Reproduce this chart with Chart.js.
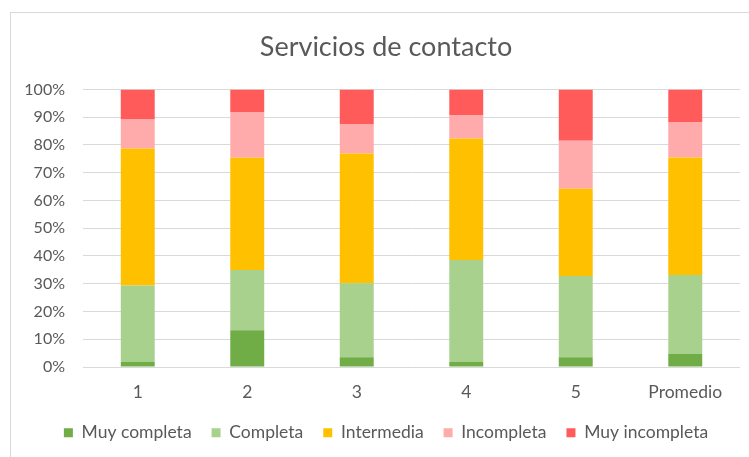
<!DOCTYPE html>
<html>
<head>
<meta charset="utf-8">
<script src="https://cdn.jsdelivr.net/npm/chart.js@4/dist/chart.umd.min.js"></script>
<style>
  html, body { margin: 0; padding: 0; background: #fff; overflow: hidden; width: 749px; height: 457px; }
  #frame { position: absolute; left: 10px; top: 12px; width: 800px; height: 500px; border: 1px solid #d9d9d9; box-sizing: border-box; }
  #wrap { position: absolute; left: 0; top: 0; width: 770px; height: 457px; }
</style>
</head>
<body>
<div id="frame"></div>
<div id="wrap"><canvas id="c" width="770" height="457"></canvas></div>
<script>
const categories = ['1', '2', '3', '4', '5', 'Promedio'];
const muyCompleta   = [1.8, 13.2, 3.5, 1.8, 3.5, 4.8];
const completa      = [27.6, 21.7, 26.7, 36.7, 29.3, 28.3];
const intermedia    = [49.3, 40.5, 46.7, 43.8, 31.4, 42.4];
const incompleta    = [10.5, 16.3, 10.5, 8.3, 17.3, 12.6];
const muyIncompleta = [10.8, 8.3, 12.6, 9.4, 18.5, 11.9];
const yTicks = [0, 10, 20, 30, 40, 50, 60, 70, 80, 90, 100];

const textColor = '#595959';
const fontFam = 'Lato, "Open Sans", sans-serif';

const legendHeightPlugin = {
  id: 'legendHeight',
  afterInit(chart) {
    const lg = chart.legend;
    if (!lg) return;
    const orig = lg.fit.bind(lg);
    lg.fit = function () { orig(); this.height = 53; };
  }
};

new Chart(document.getElementById('c'), {
  type: 'bar',
  plugins: [legendHeightPlugin],
  data: {
    labels: categories,
    datasets: [
      { label: 'Muy completa', data: muyCompleta, backgroundColor: '#70AD47' },
      { label: 'Completa', data: completa, backgroundColor: '#A9D18E' },
      { label: 'Intermedia', data: intermedia, backgroundColor: '#FFC000' },
      { label: 'Incompleta', data: incompleta, backgroundColor: '#FFABAB' },
      { label: 'Muy incompleta', data: muyIncompleta, backgroundColor: '#FF5B5B' }
    ]
  },
  options: {
    responsive: false,
    animation: false,
    devicePixelRatio: 1,
    datasets: { bar: { categoryPercentage: 1, barPercentage: 0.31, borderWidth: 0 } },
    layout: { padding: { top: 12, left: 10, right: 8, bottom: 0 } },
    plugins: {
      title: {
        display: true,
        text: 'Servicios de contacto',
        color: textColor,
        font: { family: fontFam, size: 27, weight: 'normal' },
        padding: { top: 19, bottom: 26 }
      },
      legend: {
        position: 'bottom',
        labels: {
          color: textColor,
          font: { family: fontFam, size: 17.5 },
          boxWidth: 9,
          boxHeight: 9,
          padding: 20
        }
      },
      tooltip: { enabled: false }
    },
    scales: {
      x: {
        stacked: true,
        grid: { display: false, drawTicks: false },
        border: { display: false },
        afterFit: (s) => { s.height = 37; },
        ticks: { color: textColor, font: { family: fontFam, size: 17.5 }, padding: 15 }
      },
      y: {
        stacked: true,
        min: 0,
        max: 100,
        afterBuildTicks: (s) => { s.ticks = yTicks.map(v => ({ value: v })); },
        afterFit: (s) => { s.width = 73; },
        grid: { color: '#d9d9d9', lineWidth: 1, drawTicks: false },
        border: { display: false },
        ticks: { color: textColor, font: { family: fontFam, size: 16 }, padding: 18, callback: v => v + '%' }
      },
      yRight: {
        position: 'right',
        min: 0,
        max: 100,
        afterFit: (s) => { s.width = 22; },
        grid: { display: false, drawTicks: false },
        border: { display: false },
        ticks: { display: false }
      }
    }
  }
});
</script>
</body>
</html>
